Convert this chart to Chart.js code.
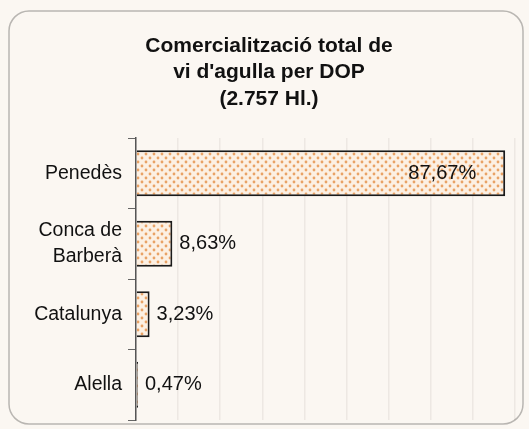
<!DOCTYPE html>
<html>
<head>
<meta charset="utf-8">
<script src="https://cdn.jsdelivr.net/npm/chart.js@4/dist/chart.umd.min.js"></script>
<style>
  html, body { margin: 0; padding: 0; background: #fbf7f2; }
  #wrap { width: 529px; height: 429px; position: relative; }
</style>
</head>
<body>
<div id="wrap"><canvas id="c" width="529" height="429"></canvas></div>
<script>
const categories = ["Penedès", ["Conca de", "Barberà"], "Catalunya", "Alella"];
const values = [87.67, 8.63, 3.23, 0.47];
const valueLabels = ["87,67%", "8,63%", "3,23%", "0,47%"];
const titleLines = ["Comercialització total de", "vi d'agulla per DOP", "(2.757 Hl.)"];

const FONT = '"Liberation Sans", Arial, sans-serif';

function makePattern() {
  const p = document.createElement('canvas');
  p.width = 8; p.height = 8;
  const g = p.getContext('2d');
  g.fillStyle = '#fcf0e3';
  g.fillRect(0, 0, 8, 8);
  g.fillStyle = '#e9a265';
  g.beginPath(); g.arc(2, 2, 1.4, 0, Math.PI * 2); g.fill();
  g.beginPath(); g.arc(6, 6, 1.4, 0, Math.PI * 2); g.fill();
  return document.getElementById('c').getContext('2d').createPattern(p, 'repeat');
}

const frame = {
  id: 'frame',
  beforeDraw(chart) {
    const ctx = chart.ctx;
    ctx.save();
    ctx.fillStyle = '#fbf7f2';
    ctx.fillRect(0, 0, chart.width, chart.height);
    ctx.strokeStyle = '#b9b6b2';
    ctx.lineWidth = 1.5;
    ctx.beginPath();
    ctx.roundRect(9, 11, 514, 413, 20);
    ctx.stroke();
    ctx.restore();
  },
  afterDraw(chart) {
    const ctx = chart.ctx;
    ctx.save();
    ctx.font = 'bold 21px ' + FONT;
    ctx.fillStyle = '#111';
    ctx.textAlign = 'center';
    ctx.textBaseline = 'middle';
    titleLines.forEach((t, i) => ctx.fillText(t, 269, 46 + i * 26.5));
    ctx.restore();
  }
};

const valueLabelPlugin = {
  id: 'valueLabels',
  afterDatasetsDraw(chart) {
    const ctx = chart.ctx;
    const meta = chart.getDatasetMeta(0);
    ctx.save();
    ctx.font = '20px ' + FONT;
    ctx.fillStyle = '#111';
    ctx.textBaseline = 'middle';
    meta.data.forEach((bar, i) => {
      const v = values[i];
      if (v > 50) {
        ctx.textAlign = 'right';
        ctx.fillText(valueLabels[i], bar.x - 29, bar.y);
      } else {
        ctx.textAlign = 'left';
        ctx.fillText(valueLabels[i], bar.x + 7, bar.y);
      }
    });
    ctx.restore();
  }
};

new Chart(document.getElementById('c'), {
  type: 'bar',
  data: {
    labels: categories,
    datasets: [{
      data: values,
      backgroundColor: makePattern(),
      borderColor: '#1a1a1a',
      borderWidth: 2,
      borderSkipped: 'left',
      categoryPercentage: 1,
      barPercentage: 0.65
    }]
  },
  options: {
    indexAxis: 'y',
    responsive: false,
    animation: false,
    layout: { padding: { left: 8, right: 14, top: 138, bottom: 9 } },
    plugins: {
      legend: { display: false },
      tooltip: { enabled: false },
      title: { display: false }
    },
    scales: {
      x: {
        min: 0, max: 90,
        afterFit(scale) { scale.height = 0; scale.paddingLeft = 0; scale.paddingRight = 0; },
        ticks: { display: false, stepSize: 10 },
        grid: { color: 'rgba(120,110,100,0.10)', drawTicks: false, lineWidth: 1.5 },
        border: { display: false }
      },
      y: {
        afterFit(scale) { scale.width = 128; scale.paddingTop = 0; scale.paddingBottom = 0; },
        ticks: {
          color: '#111',
          padding: 6,
          font: { family: FONT, size: 19.5, lineHeight: 1.35 }
        },
        grid: { drawOnChartArea: false, tickLength: 8, color: '#666' },
        border: { display: true, color: '#555', width: 1.5 }
      }
    }
  },
  plugins: [frame, valueLabelPlugin]
});
</script>
</body>
</html>
